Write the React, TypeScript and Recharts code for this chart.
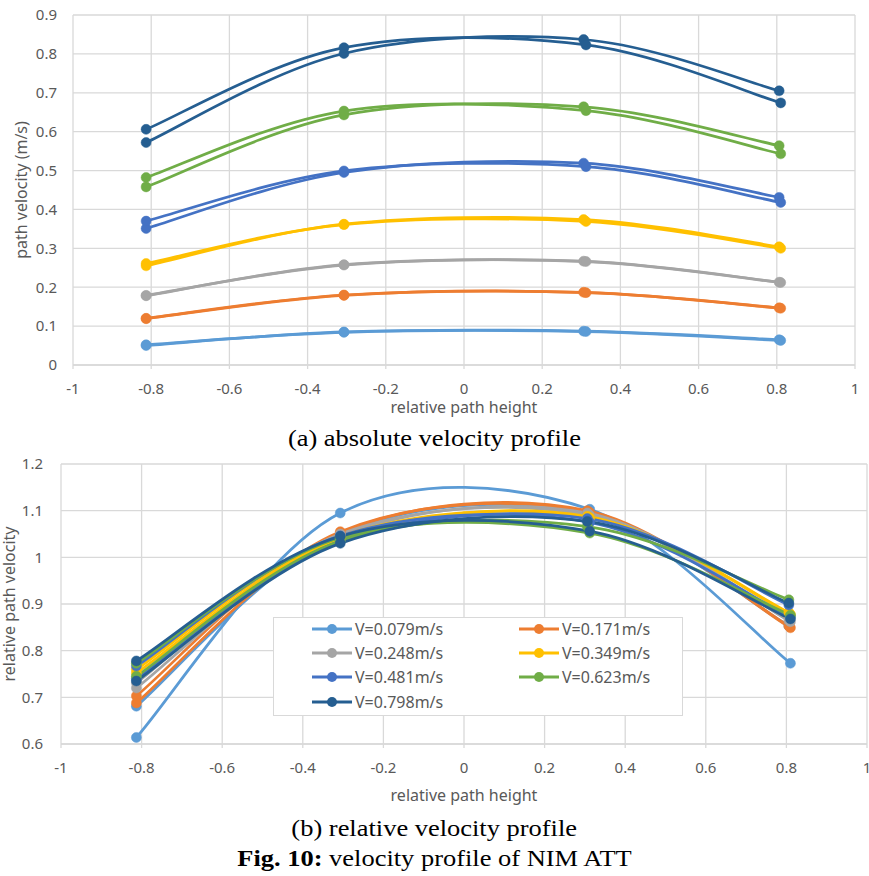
import React from 'react';
import { LineChart, Line, XAxis, YAxis, CartesianGrid, Legend, Label } from 'recharts';

// ---------- data ----------
const X_TICKS = [-1, -0.8, -0.6, -0.4, -0.2, 0, 0.2, 0.4, 0.6, 0.8, 1];
const Y_TICKS_ABS = [0, 0.1, 0.2, 0.3, 0.4, 0.5, 0.6, 0.7, 0.8, 0.9];
const Y_TICKS_REL = [0.6, 0.7, 0.8, 0.9, 1, 1.1, 1.2];

// relative path heights of the measuring paths (two runs, slightly shifted)
const HEIGHTS_RUN1 = [-0.813, -0.307, 0.306, 0.806];
const HEIGHTS_RUN2 = [-0.813, -0.307, 0.312, 0.81];

const SPEED_LABELS = ['V=0.079m/s', 'V=0.171m/s', 'V=0.248m/s', 'V=0.349m/s', 'V=0.481m/s', 'V=0.623m/s', 'V=0.798m/s'];

// (a) absolute path velocity (m/s)
const ABS_079_1 = [0.05, 0.085, 0.087, 0.065];
const ABS_079_2 = [0.052, 0.084, 0.086, 0.063];
const ABS_171_1 = [0.119, 0.179, 0.187, 0.147];
const ABS_171_2 = [0.12, 0.18, 0.186, 0.146];
const ABS_248_1 = [0.179, 0.257, 0.267, 0.213];
const ABS_248_2 = [0.178, 0.258, 0.266, 0.212];
const ABS_349_1 = [0.255, 0.362, 0.374, 0.304];
const ABS_349_2 = [0.261, 0.361, 0.369, 0.3];
const ABS_481_1 = [0.351, 0.495, 0.519, 0.431];
const ABS_481_2 = [0.37, 0.499, 0.51, 0.418];
const ABS_623_1 = [0.458, 0.643, 0.664, 0.564];
const ABS_623_2 = [0.482, 0.653, 0.654, 0.543];
const ABS_798_1 = [0.572, 0.801, 0.837, 0.705];
const ABS_798_2 = [0.606, 0.816, 0.823, 0.674];

// (b) relative path velocity
const REL_079_1 = [0.681, 1.05, 1.095, 0.853];
const REL_079_2 = [0.614, 1.095, 1.103, 0.773];
const REL_171_1 = [0.688, 1.052, 1.1, 0.853];
const REL_171_2 = [0.703, 1.055, 1.096, 0.849];
const REL_248_1 = [0.72, 1.045, 1.095, 0.865];
const REL_248_2 = [0.731, 1.05, 1.09, 0.862];
const REL_349_1 = [0.752, 1.04, 1.088, 0.882];
const REL_349_2 = [0.76, 1.045, 1.085, 0.878];
const REL_481_1 = [0.74, 1.035, 1.083, 0.898];
const REL_481_2 = [0.767, 1.046, 1.075, 0.872];
const REL_623_1 = [0.745, 1.035, 1.066, 0.909];
const REL_623_2 = [0.773, 1.042, 1.052, 0.876];
const REL_798_1 = [0.735, 1.03, 1.077, 0.902];
const REL_798_2 = [0.778, 1.045, 1.056, 0.868];

// ---------- styles ----------
const COLORS = ['#5B9BD5', '#ED7D31', '#A5A5A5', '#FFC000', '#4472C4', '#70AD47', '#255E91'];
const FONT = "'Noto Sans', 'Open Sans', sans-serif";
const SERIF = "'Liberation Serif', 'Times New Roman', serif";
const TEXT_GRAY = '#595959';
const GRID = '#d9d9d9';

const ABS_PAIRS = [
  [ABS_079_1, ABS_079_2], [ABS_171_1, ABS_171_2], [ABS_248_1, ABS_248_2], [ABS_349_1, ABS_349_2],
  [ABS_481_1, ABS_481_2], [ABS_623_1, ABS_623_2], [ABS_798_1, ABS_798_2],
];
const REL_PAIRS = [
  [REL_079_1, REL_079_2], [REL_171_1, REL_171_2], [REL_248_1, REL_248_2], [REL_349_1, REL_349_2],
  [REL_481_1, REL_481_2], [REL_623_1, REL_623_2], [REL_798_1, REL_798_2],
];

const toPoints = (xs: number[], ys: number[]) => xs.map((x, i) => ({ x, y: ys[i] }));

const buildSeries = (pairs: number[][][]) => {
  const out: { key: string; color: string; data: { x: number; y: number }[] }[] = [];
  pairs.forEach((pair, i) => {
    out.push({ key: `s${i}a`, color: COLORS[i], data: toPoints(HEIGHTS_RUN1, pair[0]) });
    out.push({ key: `s${i}b`, color: COLORS[i], data: toPoints(HEIGHTS_RUN2, pair[1]) });
  });
  return out;
};

const ABS_SERIES = buildSeries(ABS_PAIRS);
const REL_SERIES = buildSeries(REL_PAIRS);

// Excel-like smoothed line (uniform Catmull-Rom spline)
const smoothCurve: any = (context: any) => {
  let pts: number[][] = [];
  return {
    areaStart() {},
    areaEnd() {},
    lineStart() {
      pts = [];
    },
    point(x: number, y: number) {
      pts.push([+x, +y]);
    },
    lineEnd() {
      const n = pts.length;
      if (!n) return;
      context.moveTo(pts[0][0], pts[0][1]);
      for (let i = 0; i < n - 1; i++) {
        const p0 = pts[Math.max(i - 1, 0)];
        const p1 = pts[i];
        const p2 = pts[i + 1];
        const p3 = pts[Math.min(i + 2, n - 1)];
        context.bezierCurveTo(
          p1[0] + (p2[0] - p0[0]) / 6,
          p1[1] + (p2[1] - p0[1]) / 6,
          p2[0] - (p3[0] - p1[0]) / 6,
          p2[1] - (p3[1] - p1[1]) / 6,
          p2[0],
          p2[1]
        );
      }
    },
  };
};

const fmt = (v: number) => String(Math.round(v * 10) / 10);

const tickStyle = { fill: TEXT_GRAY, fontSize: 15, fontFamily: FONT };
const titleStyle = { fill: TEXT_GRAY, fontSize: 16, fontFamily: FONT, textAnchor: 'middle' as const };

const LegendBox = () => (
  <div
    style={{
      position: 'relative',
      width: 410,
      height: 99,
      boxSizing: 'border-box',
      border: `1px solid ${GRID}`,
      background: '#fff',
    }}
  >
    {SPEED_LABELS.map((label, i) => {
      const col = i % 2;
      const row = Math.floor(i / 2);
      const left = col === 0 ? 37 : 244;
      const cy = 11 + row * 24.2;
      const c = COLORS[i];
      return (
        <div
          key={label}
          style={{
            position: 'absolute',
            left,
            top: cy - 11,
            height: 22,
            display: 'flex',
            alignItems: 'center',
            whiteSpace: 'nowrap',
          }}
        >
          <svg width={42} height={12} style={{ display: 'block' }}>
            <line x1={1} y1={6} x2={41} y2={6} stroke={c} strokeWidth={3} />
            <circle cx={21} cy={6} r={5} fill={c} />
          </svg>
          <span style={{ marginLeft: 2, fontFamily: FONT, fontSize: 16, color: TEXT_GRAY, lineHeight: '22px' }}>
            {label}
          </span>
        </div>
      );
    })}
  </div>
);

const renderLines = (series: typeof ABS_SERIES) =>
  series.map((s) => (
    <Line
      key={s.key}
      data={s.data}
      dataKey="y"
      type={smoothCurve}
      stroke={s.color}
      strokeWidth={2.75}
      dot={{ r: 5, fill: s.color, stroke: s.color, strokeWidth: 0.5 }}
      activeDot={false}
      isAnimationActive={false}
    />
  ));

export default function App() {
  return (
    <div
      style={{
        position: 'absolute',
        left: 0,
        top: 0,
        width: 869,
        height: 876,
        overflow: 'hidden',
        background: '#fff',
      }}
    >
      {/* (a) absolute velocity profile */}
      <div style={{ position: 'absolute', left: 0, top: 0 }}>
        <LineChart width={869} height={422} margin={{ top: 15, right: 14, bottom: 0, left: 0 }}>
          <CartesianGrid stroke={GRID} strokeWidth={1.3} />
          <XAxis
            type="number"
            dataKey="x"
            domain={[-1, 1]}
            ticks={X_TICKS}
            interval={0}
            tickFormatter={fmt}
            height={57}
            tick={tickStyle}
            axisLine={{ stroke: GRID, strokeWidth: 1.3 }}
            tickLine={{ stroke: GRID, strokeWidth: 1.3 }}
            tickSize={4}
            tickMargin={14}
          >
            <Label value="relative path height" position="insideBottom" offset={9} style={titleStyle} />
          </XAxis>
          <YAxis
            type="number"
            domain={[0, 0.9]}
            ticks={Y_TICKS_ABS}
            interval={0}
            tickFormatter={fmt}
            width={73}
            tick={tickStyle}
            axisLine={false}
            tickLine={false}
            tickSize={4}
            tickMargin={12}
          >
            <Label value="path velocity (m/s)" angle={-90} position="insideLeft" offset={21} style={titleStyle} />
          </YAxis>
          {renderLines(ABS_SERIES)}
        </LineChart>
      </div>

      <div
        style={{
          position: 'absolute',
          left: 0,
          top: 427,
          width: 869,
          textAlign: 'center',
          fontFamily: SERIF,
          fontSize: 23,
          lineHeight: '23px',
          color: '#000',
        }}
      >
        <span style={{ display: 'inline-block', transform: 'scaleX(1.15)' }}>(a) absolute velocity profile</span>
      </div>

      {/* (b) relative velocity profile */}
      <div style={{ position: 'absolute', left: 0, top: 440 }}>
        <LineChart width={869} height={372} margin={{ top: 24, right: 2, bottom: 0, left: 0 }}>
          <CartesianGrid stroke={GRID} strokeWidth={1.3} />
          <XAxis
            type="number"
            dataKey="x"
            domain={[-1, 1]}
            ticks={X_TICKS}
            interval={0}
            tickFormatter={fmt}
            height={68}
            tick={tickStyle}
            axisLine={{ stroke: GRID, strokeWidth: 1.3 }}
            tickLine={{ stroke: GRID, strokeWidth: 1.3 }}
            tickSize={4}
            tickMargin={14}
          >
            <Label value="relative path height" position="insideBottom" offset={11} style={titleStyle} />
          </XAxis>
          <YAxis
            type="number"
            domain={[0.6, 1.2]}
            ticks={Y_TICKS_REL}
            interval={0}
            tickFormatter={fmt}
            width={61}
            tick={tickStyle}
            axisLine={false}
            tickLine={false}
            tickSize={4}
            tickMargin={14}
          >
            <Label value="relative path velocity" angle={-90} position="insideLeft" offset={9} style={titleStyle} />
          </YAxis>
          {renderLines(REL_SERIES)}
          <Legend
            layout="horizontal"
            verticalAlign="middle"
            align="center"
            wrapperStyle={{ left: 273, top: 177, width: 410, height: 99 }}
            content={() => <LegendBox />}
          />
        </LineChart>
      </div>

      <div
        style={{
          position: 'absolute',
          left: 0,
          top: 817,
          width: 869,
          textAlign: 'center',
          fontFamily: SERIF,
          fontSize: 23,
          lineHeight: '23px',
          color: '#000',
        }}
      >
        <span style={{ display: 'inline-block', transform: 'scaleX(1.15)' }}>(b) relative velocity profile</span>
      </div>
      <div
        style={{
          position: 'absolute',
          left: 0,
          top: 847,
          width: 869,
          textAlign: 'center',
          fontFamily: SERIF,
          fontSize: 23,
          lineHeight: '23px',
          color: '#000',
        }}
      >
        <span style={{ display: 'inline-block', transform: 'scaleX(1.15)' }}>
          <b>Fig. 10:</b> velocity profile of NIM ATT
        </span>
      </div>
    </div>
  );
}
